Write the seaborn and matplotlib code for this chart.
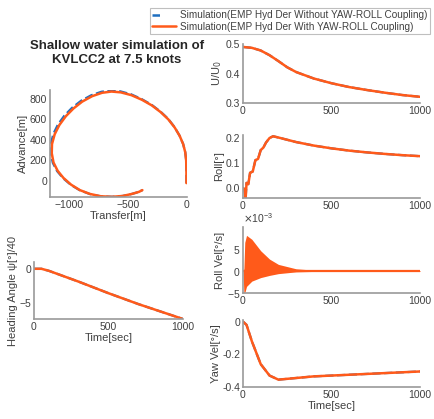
import matplotlib
matplotlib.use("Agg")
import matplotlib.pyplot as plt
import numpy as np
import pandas as pd
import seaborn as sns
from matplotlib.lines import Line2D
from matplotlib.ticker import ScalarFormatter

# ---- data ----
traj_x = [0, 0, -2, -10, -28, -58, -100, -155, -220, -295, -380, -470, -560,
          -640, -720, -805, -890, -965, -1030, -1085, -1125, -1148, -1150,
          -1135, -1100, -1050, -985, -910, -825, -730, -635, -545, -465,
          -405, -376]
traj_y = [-20, 100, 200, 280, 360, 440, 520, 600, 670, 735, 790, 835, 862,
          870, 858, 825, 772, 705, 630, 545, 455, 360, 270, 180, 100, 30,
          -35, -88, -125, -148, -153, -145, -125, -105, -88]
traj_x_blue = [0, 0, -2, -10, -28, -58, -100, -155, -222, -298, -384, -474,
               -564, -644, -726, -813, -900, -977, -1043, -1098, -1137, -1158,
               -1158, -1141, -1104, -1052, -986, -910, -825, -730, -635, -545,
               -465, -405, -376]
traj_y_blue = [-20, 100, 200, 280, 360, 440, 522, 604, 676, 742, 798, 844,
               872, 880, 868, 834, 780, 712, 635, 548, 457, 360, 268, 176, 96,
               26, -38, -90, -126, -149, -153, -145, -125, -105, -88]

t_u = [0, 50, 100, 150, 200, 250, 300, 400, 500, 600, 700, 800, 900, 1000]
u_ratio = [0.49, 0.487, 0.478, 0.462, 0.442, 0.421, 0.405, 0.383, 0.367,
           0.354, 0.344, 0.335, 0.327, 0.321]

t_roll = [0, 8, 15, 20, 30, 40, 55, 70, 85, 100, 115, 130, 150, 170, 200,
          300, 400, 500, 600, 700, 800, 900, 1000]
roll = [0.0, -0.005, -0.04, 0.02, 0.015, 0.06, 0.065, 0.11, 0.115, 0.15,
        0.16, 0.18, 0.198, 0.205, 0.2, 0.182, 0.168, 0.157, 0.148, 0.141,
        0.135, 0.13, 0.126]

t_rv = [0, 5, 10, 20, 50, 100, 150, 200, 300, 400, 1000]
rv_upper = [0.0, 0.5, 6.5, 8.1, 7.2, 4.6, 2.7, 1.5, 0.5, 0.2, 0.1]
rv_lower = [0.0, -5.0, -5.0, -3.5, -2.3, -1.5, -1.0, -0.6, -0.2, -0.1, -0.1]

t_yaw = [0, 20, 50, 100, 150, 200, 250, 300, 400, 500, 600, 700, 800, 900, 1000]
yaw = [0.0, -0.02, -0.12, -0.26, -0.33, -0.355, -0.35, -0.345, -0.335, -0.33,
       -0.325, -0.32, -0.315, -0.31, -0.305]

t_head = [0, 50, 100, 200, 300, 500, 700, 1000]
heading = [0.0, 0.0, -0.3, -1.1, -1.9, -3.6, -5.2, -7.4]

ORANGE = "#ff5a1a"
BLUE = "#1f6fc0"
GREY = "#9a9a9a"
TXT = "#404040"

sns.set_style("white")
plt.rcParams["font.family"] = ["Liberation Sans", "DejaVu Sans"]

W, H = 435, 419
fig = plt.figure(figsize=(W / 100, H / 100), dpi=100)


def box(x0, y0, x1, y1):
    return [x0 / W, 1 - y1 / H, (x1 - x0) / W, (y1 - y0) / H]


def style(ax):
    for s in ["top", "right"]:
        ax.spines[s].set_visible(False)
    for s in ["left", "bottom"]:
        ax.spines[s].set_color(GREY)
        ax.spines[s].set_linewidth(1.2)
    ax.tick_params(direction="in", length=2, labelsize=7.5, colors=GREY,
                   labelcolor=TXT, pad=2)


def pair(ax, x, y, xb=None, yb=None):
    xb = x if xb is None else xb
    yb = y if yb is None else yb
    sns.lineplot(x=xb, y=yb, ax=ax, color=BLUE, lw=1.6, ls="--", sort=False,
                 estimator=None)
    sns.lineplot(x=x, y=y, ax=ax, color=ORANGE, lw=1.8, sort=False,
                 estimator=None)


# trajectory
ax = fig.add_axes(box(50, 90, 187, 197))
pair(ax, traj_x, traj_y, traj_x_blue, traj_y_blue)
ax.set_xlim(-1165, 5)
ax.set_ylim(-155, 885)
ax.set_xticks([-1000, -500, 0])
ax.set_yticks([0, 200, 400, 600, 800])
ax.set_xlabel("Transfer[m]", fontsize=8, color=TXT, labelpad=1)
ax.set_ylabel("Advance[m]", fontsize=8, color=TXT, labelpad=1)
style(ax)

# U/U0
ax = fig.add_axes(box(243, 44, 420, 103))
pair(ax, t_u, u_ratio)
ax.set_xlim(0, 1000)
ax.set_ylim(0.3, 0.5)
ax.set_xticks([0, 500, 1000])
ax.set_yticks([0.3, 0.4, 0.5])
ax.set_ylabel("U/U$_0$", fontsize=8, color=TXT, labelpad=1)
style(ax)

# roll
ax = fig.add_axes(box(243, 135, 420, 198))
pair(ax, t_roll, roll)
ax.set_xlim(0, 1000)
ax.set_ylim(-0.04, 0.21)
ax.set_xticks([0, 500, 1000])
ax.set_yticks([0, 0.1, 0.2])
ax.set_ylabel("Roll[°]", fontsize=8, color=TXT, labelpad=1)
style(ax)

# roll velocity
ax = fig.add_axes(box(243, 227, 420, 293))
rv_df = pd.DataFrame({"t": t_rv, "hi": np.array(rv_upper) * 1e-3,
                      "lo": np.array(rv_lower) * 1e-3})
ax.fill_between(rv_df["t"], rv_df["lo"], rv_df["hi"], color=ORANGE, lw=0)
sns.lineplot(x=[0, 1000], y=[0, 0], ax=ax, color=ORANGE, lw=1.6)
ax.set_xlim(0, 1000)
ax.set_ylim(-5e-3, 10e-3)
ax.set_xticks([0, 500, 1000])
ax.set_yticks([-5e-3, 0, 5e-3])
fmt = ScalarFormatter(useMathText=True)
fmt.set_powerlimits((-2, 2))
ax.yaxis.set_major_formatter(fmt)
ax.yaxis.get_offset_text().set_fontsize(7.5)
ax.yaxis.get_offset_text().set_color(TXT)
ax.set_ylabel("Roll Vel[°/s]", fontsize=8, color=TXT, labelpad=1)
style(ax)

# yaw velocity
ax = fig.add_axes(box(243, 320, 420, 387))
pair(ax, t_yaw, yaw)
ax.set_xlim(0, 1000)
ax.set_ylim(-0.4, 0.01)
ax.set_xticks([0, 500, 1000])
ax.set_yticks([-0.4, -0.2, 0])
ax.set_yticklabels(["-0.4", "-0.2", "0"])
ax.set_xlabel("Time[sec]", fontsize=8, color=TXT, labelpad=1)
ax.set_ylabel("Yaw Vel[°/s]", fontsize=8, color=TXT, labelpad=1)
style(ax)

# heading
ax = fig.add_axes(box(34, 262, 183, 319))
pair(ax, t_head, heading)
ax.set_xlim(0, 1000)
ax.set_ylim(-7.4, 1)
ax.set_xticks([0, 500, 1000])
ax.set_yticks([-5, 0])
ax.set_xlabel("Time[sec]", fontsize=8, color=TXT, labelpad=1)
ax.set_ylabel("Heading Angle ψ[°]/40", fontsize=8, color=TXT, labelpad=1)
style(ax)

# title
fig.text(117 / W, 1 - 53 / H, "Shallow water simulation of\nKVLCC2 at 7.5 knots",
         ha="center", va="center", fontsize=9.5, fontweight="bold",
         linespacing=1.25)

# legend
handles = [Line2D([], [], color=BLUE, lw=1.8, ls=(0, (3, 20))),
           Line2D([], [], color=ORANGE, lw=1.8)]
labels = ["Simulation(EMP Hyd Der Without YAW-ROLL Coupling)",
          "Simulation(EMP Hyd Der With YAW-ROLL Coupling)"]
leg = fig.legend(handles, labels, loc="upper right",
                 bbox_to_anchor=(430 / W, 1 - 8 / H), fontsize=7.2,
                 frameon=True, fancybox=False, handlelength=2.4,
                 handletextpad=0.4, borderpad=0.25, labelspacing=0.1,
                 borderaxespad=0)
leg.get_frame().set_edgecolor("#b0b0b0")
leg.get_frame().set_linewidth(0.8)
for t in leg.get_texts():
    t.set_color(TXT)

fig.savefig("out.png", dpi=100)
